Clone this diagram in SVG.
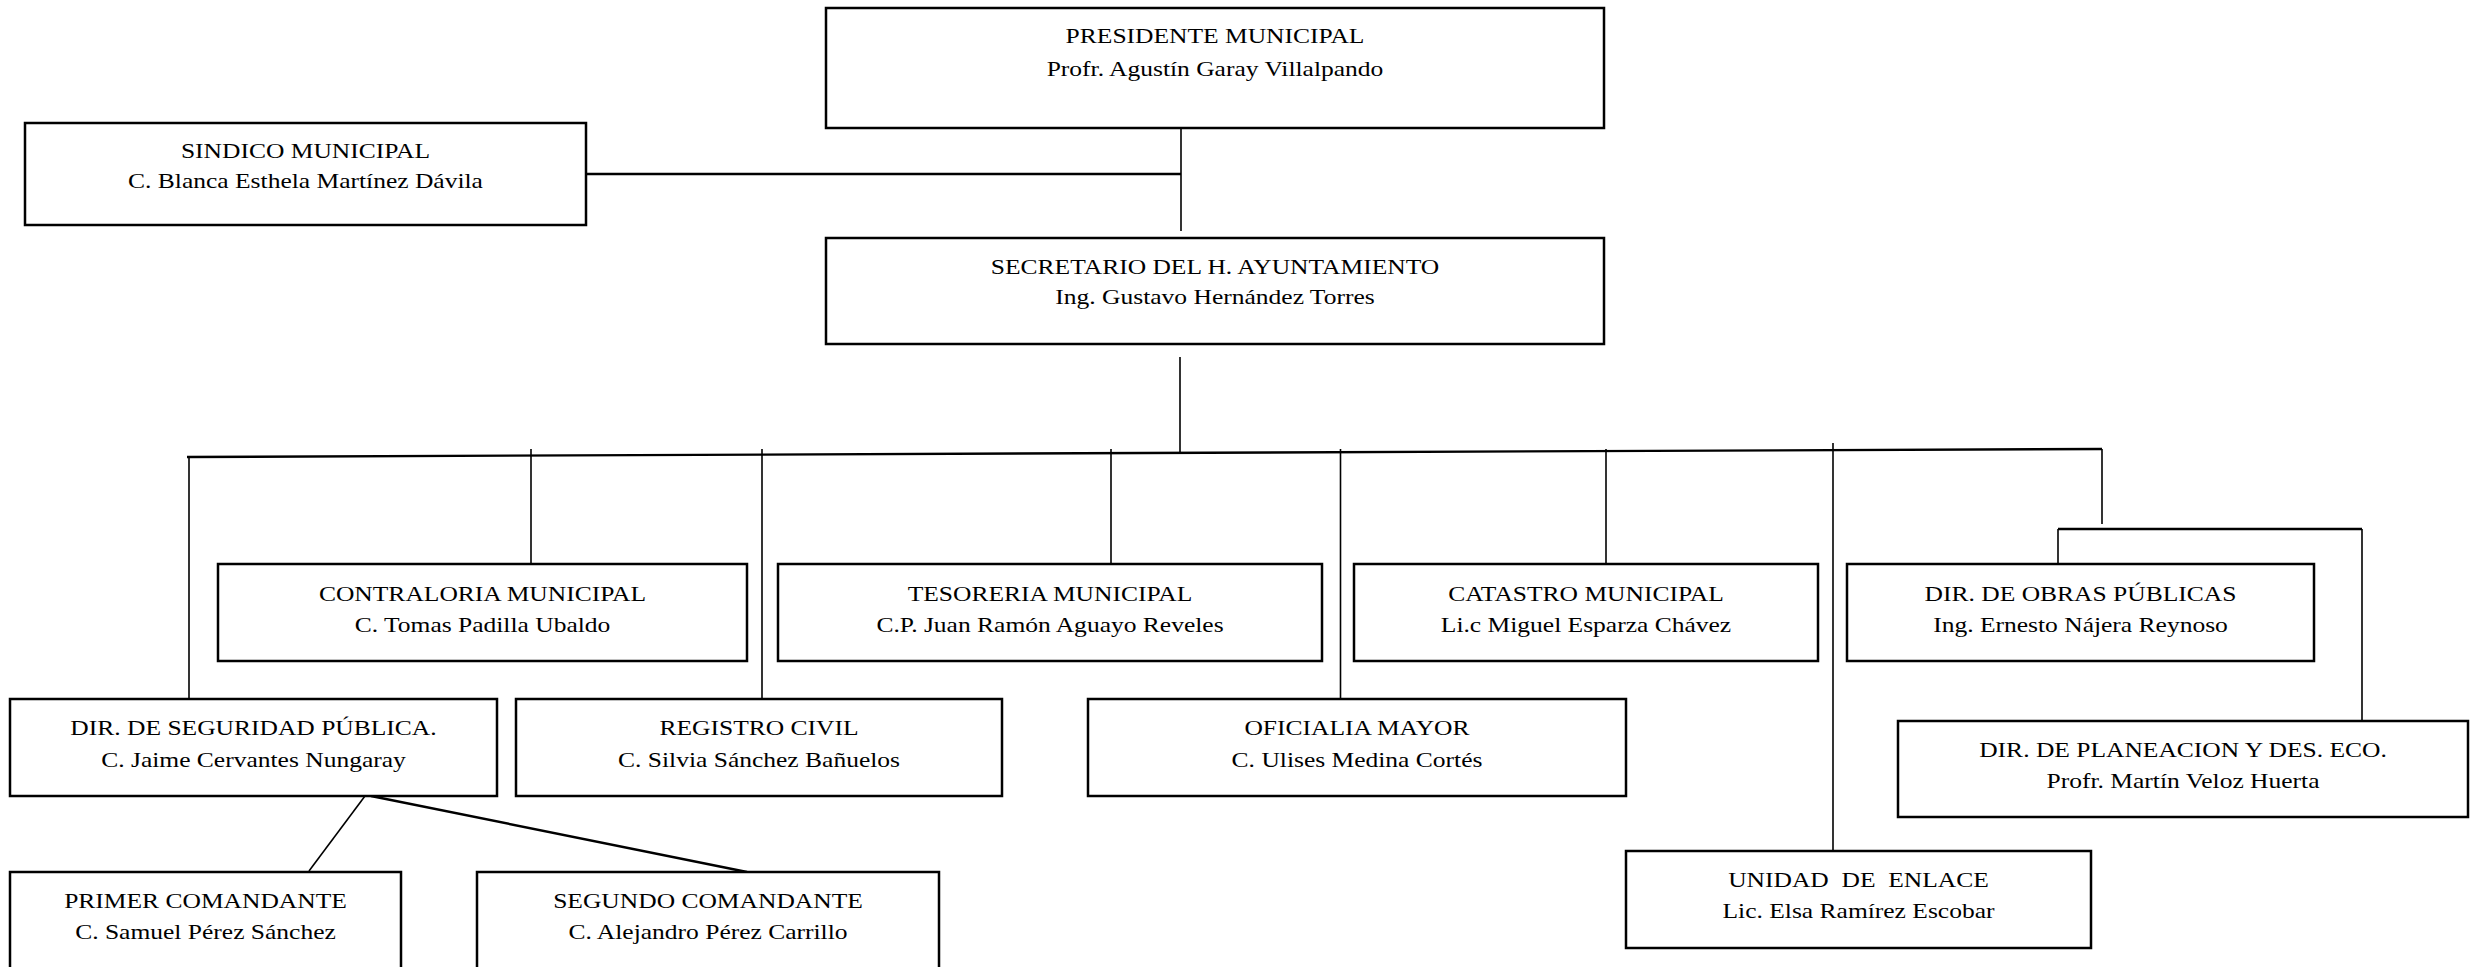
<svg xmlns="http://www.w3.org/2000/svg" width="2471" height="967" viewBox="0 0 2471 967">
<style>
.box{fill:#fff;stroke:#000;stroke-width:2.5}
.t{font-family:"Liberation Serif","Times New Roman",serif;font-size:22px;fill:#000;text-anchor:middle;white-space:pre}
.c{fill:none;stroke:#000;stroke-width:1.6}
.b{fill:none;stroke:#000;stroke-width:2.4}
</style>
<rect width="2471" height="967" fill="#fff"/>
<g id="connectors">
<line class="c" x1="1181" y1="117" x2="1181" y2="231"/>
<line class="b" x1="586" y1="174" x2="1181" y2="174"/>
<line class="c" x1="1180" y1="357" x2="1180" y2="454"/>
<line class="b" x1="187" y1="457" x2="2102" y2="449"/>
<line class="c" x1="189" y1="457" x2="189" y2="699"/>
<line class="c" x1="531" y1="449" x2="531" y2="564"/>
<line class="c" x1="762" y1="449" x2="762" y2="699"/>
<line class="c" x1="1111" y1="449" x2="1111" y2="564"/>
<line class="c" x1="1340.5" y1="449" x2="1340.5" y2="699"/>
<line class="c" x1="1606" y1="449" x2="1606" y2="564"/>
<line class="c" x1="1833" y1="443" x2="1833" y2="851"/>
<line class="c" x1="2102" y1="449" x2="2102" y2="524"/>
<line class="b" x1="2058" y1="529" x2="2362" y2="529"/>
<line class="c" x1="2058" y1="529" x2="2058" y2="564"/>
<line class="c" x1="2362" y1="529" x2="2362" y2="721"/>
<line class="c" x1="365" y1="796" x2="309" y2="871"/>
<line class="b" x1="371" y1="796" x2="747" y2="872"/>
</g>
<g id="presidente">
<rect class="box" x="826" y="8" width="778" height="120"/>
<text class="t" transform="translate(1215 0) scale(1.16 1)" y="43">PRESIDENTE MUNICIPAL</text>
<text class="t" transform="translate(1215 0) scale(1.16 1)" y="76">Profr. Agustín Garay Villalpando</text>
</g>
<g id="sindico">
<rect class="box" x="25" y="123" width="561" height="102"/>
<text class="t" transform="translate(305.5 0) scale(1.16 1)" y="158">SINDICO MUNICIPAL</text>
<text class="t" transform="translate(305.5 0) scale(1.16 1)" y="188">C. Blanca Esthela Martínez Dávila</text>
</g>
<g id="secretario">
<rect class="box" x="826" y="238" width="778" height="106"/>
<text class="t" transform="translate(1215 0) scale(1.16 1)" y="274">SECRETARIO DEL H. AYUNTAMIENTO</text>
<text class="t" transform="translate(1215 0) scale(1.16 1)" y="304">Ing. Gustavo Hernández Torres</text>
</g>
<g id="contraloria">
<rect class="box" x="218" y="564" width="529" height="97"/>
<text class="t" transform="translate(482.5 0) scale(1.16 1)" y="601">CONTRALORIA MUNICIPAL</text>
<text class="t" transform="translate(482.5 0) scale(1.16 1)" y="632">C. Tomas Padilla Ubaldo</text>
</g>
<g id="tesoreria">
<rect class="box" x="778" y="564" width="544" height="97"/>
<text class="t" transform="translate(1050 0) scale(1.16 1)" y="601">TESORERIA MUNICIPAL</text>
<text class="t" transform="translate(1050 0) scale(1.16 1)" y="632">C.P. Juan Ramón Aguayo Reveles</text>
</g>
<g id="catastro">
<rect class="box" x="1354" y="564" width="464" height="97"/>
<text class="t" transform="translate(1586 0) scale(1.16 1)" y="601">CATASTRO MUNICIPAL</text>
<text class="t" transform="translate(1586 0) scale(1.16 1)" y="632">Li.c Miguel Esparza Chávez</text>
</g>
<g id="obras">
<rect class="box" x="1847" y="564" width="467" height="97"/>
<text class="t" transform="translate(2080.5 0) scale(1.16 1)" y="601">DIR. DE OBRAS PÚBLICAS</text>
<text class="t" transform="translate(2080.5 0) scale(1.16 1)" y="632">Ing. Ernesto Nájera Reynoso</text>
</g>
<g id="seguridad">
<rect class="box" x="10" y="699" width="487" height="97"/>
<text class="t" transform="translate(253.5 0) scale(1.16 1)" y="735">DIR. DE SEGURIDAD PÚBLICA.</text>
<text class="t" transform="translate(253.5 0) scale(1.16 1)" y="767">C. Jaime Cervantes Nungaray</text>
</g>
<g id="registro">
<rect class="box" x="516" y="699" width="486" height="97"/>
<text class="t" transform="translate(759 0) scale(1.16 1)" y="735">REGISTRO CIVIL</text>
<text class="t" transform="translate(759 0) scale(1.16 1)" y="767">C. Silvia Sánchez Bañuelos</text>
</g>
<g id="oficialia">
<rect class="box" x="1088" y="699" width="538" height="97"/>
<text class="t" transform="translate(1357 0) scale(1.16 1)" y="735">OFICIALIA MAYOR</text>
<text class="t" transform="translate(1357 0) scale(1.16 1)" y="767">C. Ulises Medina Cortés</text>
</g>
<g id="planeacion">
<rect class="box" x="1898" y="721" width="570" height="96"/>
<text class="t" transform="translate(2183 0) scale(1.16 1)" y="757">DIR. DE PLANEACION Y DES. ECO.</text>
<text class="t" transform="translate(2183 0) scale(1.16 1)" y="788">Profr. Martín Veloz Huerta</text>
</g>
<g id="unidad">
<rect class="box" x="1626" y="851" width="465" height="97"/>
<text class="t" transform="translate(1858.5 0) scale(1.16 1)" y="887">UNIDAD  DE  ENLACE</text>
<text class="t" transform="translate(1858.5 0) scale(1.16 1)" y="918">Lic. Elsa Ramírez Escobar</text>
</g>
<g id="primer">
<rect class="box" x="10" y="872" width="391" height="110"/>
<text class="t" transform="translate(205.5 0) scale(1.16 1)" y="908">PRIMER COMANDANTE</text>
<text class="t" transform="translate(205.5 0) scale(1.16 1)" y="939">C. Samuel Pérez Sánchez</text>
</g>
<g id="segundo">
<rect class="box" x="477" y="872" width="462" height="110"/>
<text class="t" transform="translate(708 0) scale(1.16 1)" y="908">SEGUNDO COMANDANTE</text>
<text class="t" transform="translate(708 0) scale(1.16 1)" y="939">C. Alejandro Pérez Carrillo</text>
</g>
</svg>
